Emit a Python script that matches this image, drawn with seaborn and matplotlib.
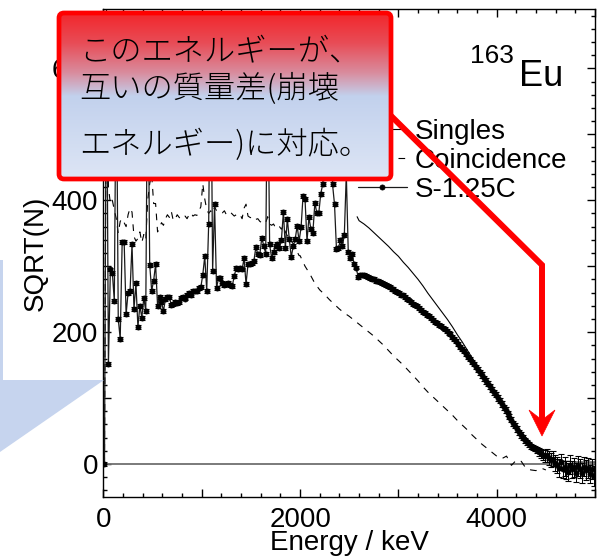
import numpy as np
import pandas as pd
import matplotlib
matplotlib.use("Agg")
import matplotlib.pyplot as plt
from matplotlib.patches import FancyBboxPatch, Polygon
from matplotlib.lines import Line2D
from matplotlib.colors import LinearSegmentedColormap
from matplotlib.ticker import MultipleLocator
import seaborn as sns

# ---------------------------------------------------------------- data
# S - 1.25 C difference spectrum, sqrt of counts, 20 keV bins (10 ... 4990 keV)
sub_energy = np.arange(10, 5000, 20)
sub_sqrt = [
    0, 680, 151, 295, 290, 247, 640, 220, 190, 337,
    337, 227, 260, 262, 333, 235, 274, 208, 240, 222,
    252, 232, 650, 302, 263, 278, 303, 240, 254, 246,
    232, 250, 253, 253, 241, 243, 246, 244, 246, 252,
    254, 251, 256, 259, 257, 262, 263, 262, 267, 268,
    287, 315, 263, 364, 680, 293, 394, 267, 282, 282,
    275, 272, 273, 275, 272, 270, 285, 297, 296, 298,
    295, 312, 273, 303, 304, 305, 308, 329, 318, 317,
    343, 331, 319, 620, 333, 313, 322, 331, 333, 328,
    340, 382, 328, 372, 341, 314, 330, 341, 361, 338,
    359, 407, 402, 338, 374, 356, 351, 396, 381, 380,
    410, 424, 470, 520, 500, 480, 424, 394, 326, 328,
    339, 330, 348, 440, 321, 313, 318, 303, 298, 284,
    286, 287, 286, 285, 284, 282, 281, 280, 278, 277,
    276, 274, 273, 271, 270, 268, 266, 265, 263, 261,
    259, 257, 256, 253, 250, 248, 246, 243, 241, 239,
    236, 234, 231, 229, 226, 224, 221, 218, 216, 214,
    211, 209, 207, 205, 202, 199, 197, 193, 189, 186,
    182, 178, 175, 171, 167, 163, 159, 155, 151, 147,
    143, 139, 135, 130, 126, 122, 118, 113, 109, 105,
    100, 96, 91, 86, 82, 77, 72, 67, 62, 58,
    53, 48, 44, 40, 36, 33, 30, 27, 25, 23,
    21, 18, 16, 14, 12, 13, 9, 6, 8, 2,
    -2, -6, 3, -8, -4, -9, -12, -1, -8, -5,
    -13, -3, -7, -14, -4, -9, -6, -15, -8, -18,
]
sub_err = ([3] * 190 + [4] * 30
           + [5, 6, 7, 8, 9, 10, 10, 11, 11, 12]
           + [12, 13, 12, 13, 14, 13, 14, 14, 13, 14]
           + [14, 15, 14, 15, 14, 15, 15, 14, 15, 15])

# Coincidence spectrum, sqrt of counts
coin_energy = np.concatenate([np.arange(10, 2000, 20), np.arange(2000, 4501, 50)])
coin_sqrt = [
    0, 700, 420, 395, 400, 385, 372, 350, 368, 372,
    366, 360, 378, 388, 382, 345, 338, 342, 352, 336,
    348, 340, 400, 425, 440, 395, 395, 352, 358, 366,
    362, 372, 378, 374, 383, 369, 372, 378, 374, 371,
    373, 376, 372, 378, 381, 376, 378, 377, 384, 390,
    425, 402, 386, 380, 384, 380, 390, 384, 382, 383,
    381, 384, 378, 380, 382, 379, 376, 378, 376, 378,
    372, 388, 394, 376, 374, 373, 375, 371, 372, 368,
    366, 364, 366, 375, 364, 362, 364, 358, 361, 360,
    356, 362, 352, 346, 345, 338, 334, 328, 322, 316,
    316, 300, 288, 274, 264, 257, 249, 242, 235, 229,
    224, 218, 212, 206, 200, 194, 187, 180, 172, 164,
    157, 150, 142, 134, 126, 117, 109, 102, 95, 88,
    81, 74, 66, 59, 52, 44, 37, 30, 24, 18,
    12, 8, 12, -2, 6, 4, -7, -9, -10, -6,
    -9,
]

# Singles spectrum, sqrt of counts (high-energy part)
sing_energy = np.concatenate([[2580], np.arange(2600, 5001, 50)])
sing_sqrt = [
    375,
    369, 364, 358, 351, 344, 337, 330, 322, 315, 306,
    298, 289, 280, 270, 259, 249, 239, 229, 219, 208,
    196, 185, 173, 161, 149, 137, 125, 114, 103, 92,
    81, 70, 59, 49, 40, 32, 25, 19, 14, 10,
    7, 5, 4, 4, 3, 3, 3, 3, 3,
]

x_ticks = [0, 1000, 2000, 3000, 4000, 5000]
x_tick_labels = ["0", "", "2000", "", "4000", ""]
y_ticks = [0, 100, 200, 300, 400, 500, 600]
y_tick_labels = ["0", "", "200", "", "400", "", "600"]

legend_labels = ["Singles", "Coincidence", "S-1.25C"]
note_lines = ["このエネルギーが、", "互いの質量差(崩壊", "エネルギー)に対応。"]
nuclide_mass = "163"
nuclide_symbol = "Eu"

sub_df = pd.DataFrame({"energy": sub_energy, "sqrt_n": sub_sqrt, "err": sub_err})
coin_df = pd.DataFrame({"energy": coin_energy, "sqrt_n": coin_sqrt})
sing_df = pd.DataFrame({"energy": sing_energy, "sqrt_n": sing_sqrt})

# ---------------------------------------------------------------- style
sns.set_theme(style="ticks")
plt.rcParams["font.family"] = ["Liberation Sans", "Noto Sans CJK JP", "DejaVu Sans"]
plt.rcParams["axes.edgecolor"] = "black"
plt.rcParams["xtick.color"] = "black"
plt.rcParams["ytick.color"] = "black"
plt.rcParams["text.color"] = "black"
plt.rcParams["axes.labelcolor"] = "black"

W, H = 600, 556
fig = plt.figure(figsize=(W / 100, H / 100), dpi=100)
fig.patch.set_facecolor("white")
ax = fig.add_axes([103.5 / W, 1 - 497 / H, (595 - 103.5) / W, (497 - 9) / H])

ax.axhline(0, color="#707070", lw=1.3, zorder=1)

sns.lineplot(data=sing_df, x="energy", y="sqrt_n", ax=ax, color="black",
             lw=0.8, estimator=None, sort=False, label=legend_labels[0], zorder=2)
sns.lineplot(data=coin_df, x="energy", y="sqrt_n", ax=ax, color="black",
             lw=0.8, estimator=None, sort=False, label=legend_labels[1], zorder=2)
ax.lines[-1].set_linestyle((0, (6, 6)))
ax.errorbar(sub_df["energy"], sub_df["sqrt_n"], yerr=sub_df["err"], fmt="none",
            ecolor="black", elinewidth=0.7, capsize=2.4, capthick=0.8,
            zorder=3, label="_nolegend_")
sns.lineplot(data=sub_df, x="energy", y="sqrt_n", ax=ax, color="#1a1a1a",
             lw=0.9, marker="o", markersize=3.7, markeredgecolor="black",
             markerfacecolor="black", markeredgewidth=0.5,
             estimator=None, sort=False, label=legend_labels[2], zorder=4)

ax.set_xlim(0, 5000)
ax.set_ylim(-50, 690)
ax.set_xticks(x_ticks)
ax.set_xticklabels(x_tick_labels)
ax.set_yticks(y_ticks)
ax.set_yticklabels(y_tick_labels)
ax.xaxis.set_minor_locator(MultipleLocator(200))
ax.yaxis.set_minor_locator(MultipleLocator(20))
ax.tick_params(which="both", direction="in", top=True, right=True,
               width=1, labelsize=20)
ax.tick_params(which="major", length=6)
ax.tick_params(which="minor", length=3)
ax.tick_params(axis="x", pad=7)
ax.tick_params(axis="y", pad=4)
for sp in ax.spines.values():
    sp.set_visible(True)
    sp.set_linewidth(1)
    sp.set_color("black")

ax.set_xlabel("Energy / keV", fontsize=20)
ax.set_ylabel("SQRT(N)", fontsize=20)
ax.xaxis.set_label_coords(0.5, -0.068)
ax.yaxis.set_label_coords(-0.112, 0.5)

handles = [ln for ln in ax.lines if ln.get_label() in legend_labels]
leg = ax.legend(handles=handles, labels=legend_labels, loc="upper left",
                bbox_to_anchor=(358 / W, 1 - 119 / H), bbox_transform=fig.transFigure,
                frameon=False, fontsize=20, borderpad=0, borderaxespad=0,
                handlelength=1.75, handletextpad=0.3, labelspacing=0.1,
                numpoints=1)

# ---------------------------------------------------------------- overlay (pixel coordinates)
ov = fig.add_axes([0, 0, 1, 1], zorder=5)
ov.set_xlim(0, W)
ov.set_ylim(H, 0)
ov.axis("off")
ov.patch.set_alpha(0)

# pointer from a note to the left
ov.add_patch(Polygon([(0, 260), (3, 260), (3, 380), (104, 380), (0, 452)],
                     closed=True, fc="#c6d4ee", ec="none", zorder=1))

# red arrow to the end point of the spectrum
ov.add_line(Line2D([380, 542, 542], [105, 265, 420], color="#ff0000", lw=4.3,
                   solid_joinstyle="miter", solid_capstyle="butt", zorder=2))
ov.add_patch(Polygon([(529, 410), (542, 436), (555, 410), (542, 420)],
                     closed=True, fc="#ff0000", ec="#ff0000", lw=0.5, zorder=2))

# note box with gradient fill
box = FancyBboxPatch((59, 13), 332, 166, boxstyle="round,pad=0,rounding_size=5",
                     fc="none", ec="#ff0000", lw=3.4, zorder=4)
ov.add_patch(box)
stops = [(0.0, (0.95, 0.15, 0.17)), (0.18, (0.91, 0.30, 0.34)),
         (0.36, (0.85, 0.55, 0.62)), (0.5, (0.76, 0.82, 0.93)),
         (1.0, (0.87, 0.90, 0.96))]
cmap = LinearSegmentedColormap.from_list("note", stops)
grad = np.linspace(0, 1, 256).reshape(-1, 1)
im = ov.imshow(grad, cmap=cmap, extent=(59, 391, 179, 13), origin="upper",
               aspect="auto", zorder=3, interpolation="bilinear")
im.set_clip_path(box)
ov.set_xlim(0, W)
ov.set_ylim(H, 0)

for txt, yc in zip(note_lines, [52, 89, 145]):
    ov.text(79, yc, txt, fontsize=22.5, family=["Noto Sans CJK JP"],
            fontweight="light", ha="left", va="center", color="black", zorder=6)

ov.text(470, 63, nuclide_mass, fontsize=19, ha="left", va="baseline", zorder=6)
ov.text(519, 86, nuclide_symbol, fontsize=26, ha="left", va="baseline", zorder=6)

fig.savefig("out.png", dpi=100)
